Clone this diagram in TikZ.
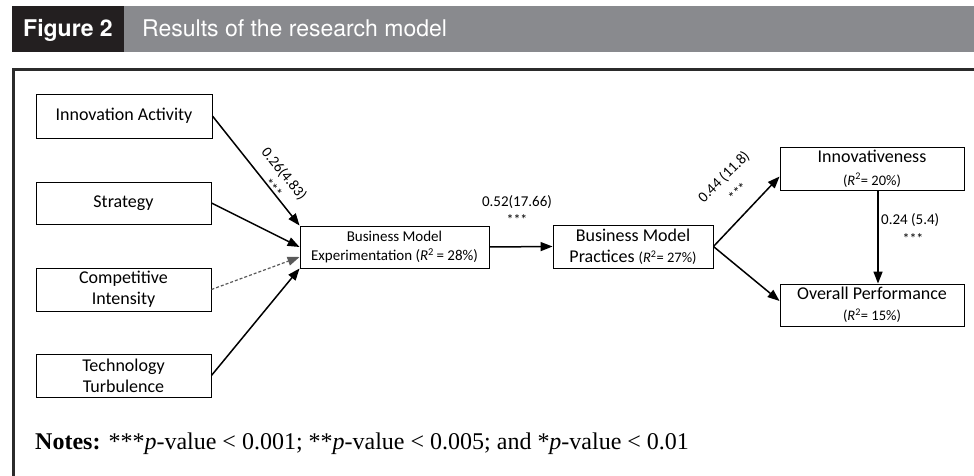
\documentclass[tikz,border=0pt]{standalone}
\usepackage{fontspec}
\setmainfont{Carlito}
\newfontfamily\helv{TeX Gyre Heros}
\newfontfamily\tms{Liberation Serif}
\usetikzlibrary{arrows.meta}
\definecolor{hdrgrey}{HTML}{898A8E}
\definecolor{hdrblack}{HTML}{231F20}
\definecolor{framecol}{HTML}{2B2B2B}
\definecolor{dashgrey}{HTML}{5A5A5A}
\newcommand\Rsq{\textit{R}\textsuperscript{2}}
\begin{document}
\begin{tikzpicture}[x=1pt,y=-1pt,
  box/.style={draw=black, line width=0.9pt, rectangle, inner sep=0pt, align=center,
    font=\fontsize{18}{21}\selectfont},
  arr/.style={line width=1.5pt, -{Triangle[length=12pt,width=9pt]}},
  darr/.style={line width=1.2pt, draw=dashgrey, dash pattern=on 3pt off 2pt,
    -{Triangle[length=12pt,width=9pt,fill=dashgrey]}},
  coef/.style={font=\fontsize{15}{17}\selectfont, inner sep=0pt},
  stars/.style={font=\fontsize{14}{14}\selectfont, inner sep=0pt}
]
\useasboundingbox (0,0) rectangle (974,476);
% header
\fill[hdrblack] (12,6) rectangle (124,52);
\fill[hdrgrey] (124,6) rectangle (974,52);
\node[anchor=base west, text=white, font=\helv\bfseries\fontsize{23}{23}\selectfont, inner sep=0pt] (fig) at (23,37) {Figure 2};
\node[anchor=base west, text=white, font=\helv\fontsize{23}{23}\selectfont, inner sep=0pt] (ttl) at (142,37) {Results of the research model};
% frame
\draw[framecol, line width=3pt] (974,69.5) -- (13.5,69.5) -- (13.5,476);
% boxes
\node[box, minimum width=176pt, minimum height=44pt] (ia) at (124,116) {Innovation Activity};
\node[box, minimum width=175pt, minimum height=42pt] (st) at (123.5,203) {Strategy};
\node[box, minimum width=175pt, minimum height=43pt] (ci) at (123.5,289.5) {Competitive\\Intensity};
\node[box, minimum width=175pt, minimum height=43pt] (tt) at (123.5,375.5) {Technology\\Turbulence};
\node[box, minimum width=189pt, minimum height=42pt, font=\fontsize{15}{19}\selectfont] (bme) at (394.5,247) {Business Model\\Experimentation (\Rsq\,= 28\%)};
\node[box, minimum width=160pt, minimum height=43pt] (bmp) at (633,246.5) {Business Model\\Practices {\fontsize{14.5}{14.5}\selectfont(\Rsq= 27\%)}};
\node[box, minimum width=184pt, minimum height=43pt, font=\fontsize{18}{23}\selectfont] (inn) at (872,168.5) {Innovativeness\\{\fontsize{14.5}{14.5}\selectfont(\Rsq= 20\%)}};
\node[box, minimum width=184pt, minimum height=42pt, font=\fontsize{18}{21}\selectfont] (op) at (872,305) {Overall Performance\\{\fontsize{14.5}{14.5}\selectfont(\Rsq= 15\%)}};
% connectors
\draw[arr] (ia.east) -- (bme.north west);
\draw[arr] (st.east) -- (bme.west);
\draw[darr] (ci.east) -- ([yshift=-10pt]bme.west);
\draw[arr] (tt.east) -- (bme.south west);
\draw[arr] (bme.east) -- (bmp.west);
\draw[arr] (bmp.east) -- ([yshift=-8pt]inn.west);
\draw[arr] (bmp.east) -- ([yshift=4pt]op.west);
\draw[arr] ([xshift=6pt]inn.south) -- ([xshift=6pt]op.north);
% labels
\node[coef, rotate=-51] (l26) at (284,174) {0.26(4.83)};
\node[stars, rotate=-51] (s26) at (273,188) {***};
\node[coef] (l52) at (517,202) {0.52(17.66)};
\node[stars] (s52) at (517,220) {***};
\node[coef, rotate=45] (l44) at (724,177) {0.44 (11.8)};
\node[stars, rotate=45] (s44) at (738,192) {***};
\node[coef, anchor=west] (l24) at (881,220) {0.24 (5.4)};
\node[stars] (s24) at (913,239) {***};
% notes
\node[anchor=base west, inner sep=0pt, font=\tms\fontsize{24}{24}\selectfont] (notes) at (35,449)
  {\textbf{Notes:} ***\textit{p}-value < 0.001; **\textit{p}-value < 0.005; and *\textit{p}-value < 0.01};
\end{tikzpicture}
\end{document}
